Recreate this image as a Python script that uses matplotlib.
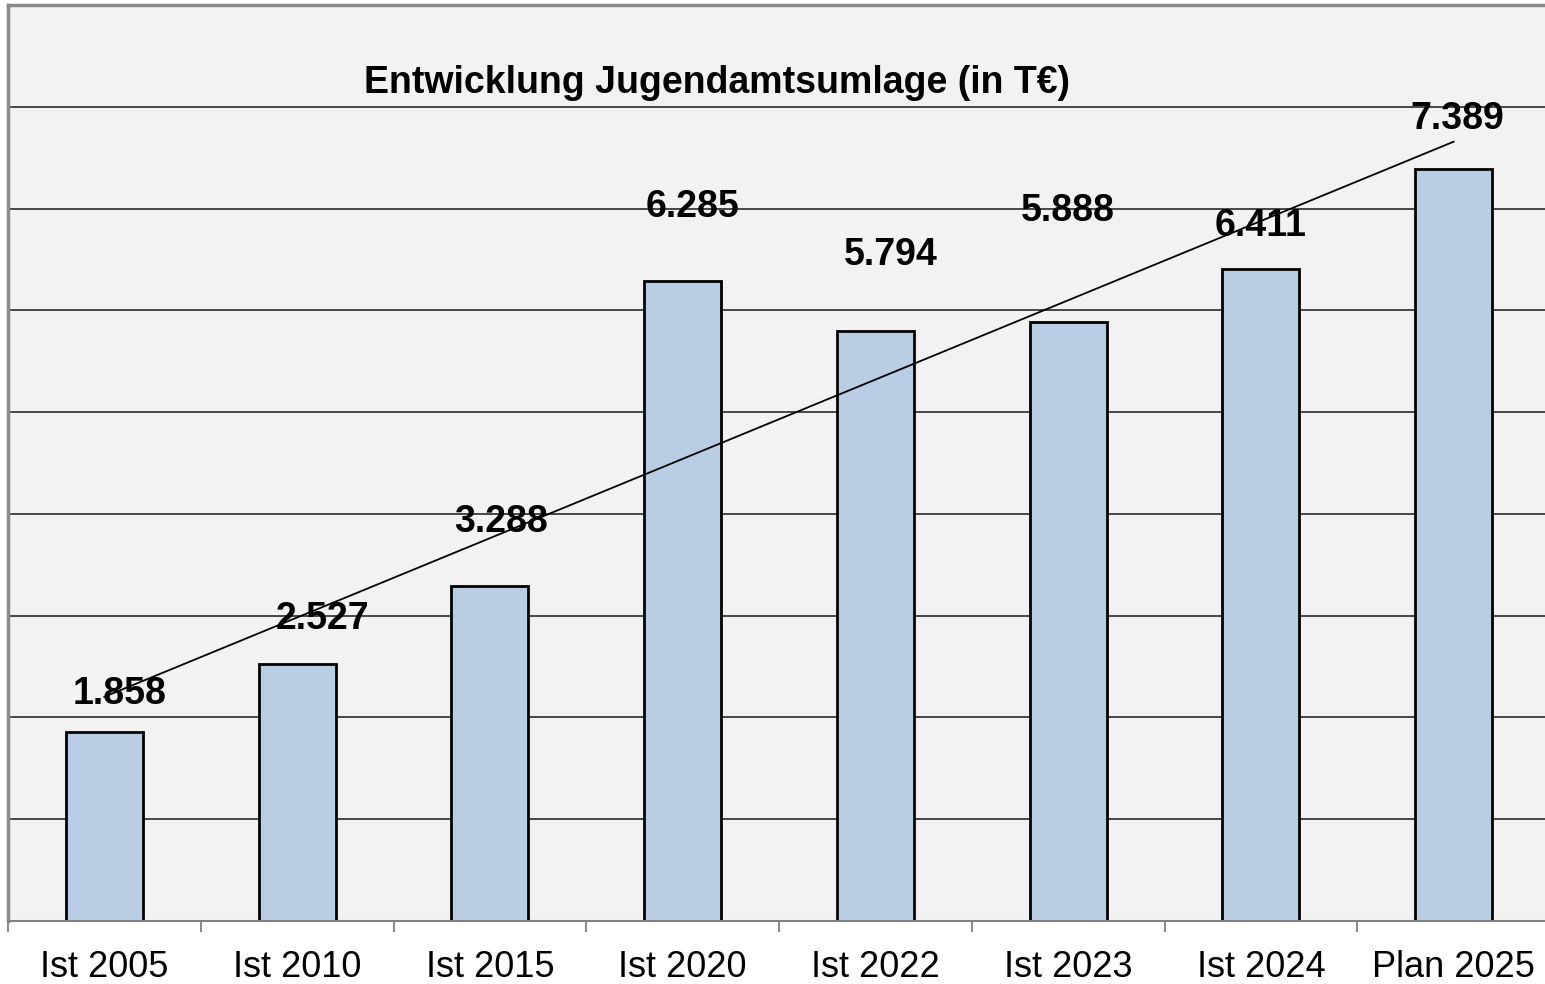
import numpy as np
import matplotlib
matplotlib.use("Agg")
import matplotlib.pyplot as plt
from matplotlib.ticker import FixedLocator, NullFormatter, FixedFormatter

plt.rcParams['font.family'] = ['Liberation Sans', 'DejaVu Sans']

# data
categories = ['Ist 2005', 'Ist 2010', 'Ist 2015', 'Ist 2020',
              'Ist 2022', 'Ist 2023', 'Ist 2024', 'Plan 2025']
values = [1858, 2527, 3288, 6285, 5794, 5888, 6411, 7389]
value_labels = ['1.858', '2.527', '3.288', '6.285',
                '5.794', '5.888', '6.411', '7.389']

# manual label placement (as in the original spreadsheet chart)
label_dx = [0.08, 0.13, 0.06, 0.05, 0.08, 0.0, 0.0, 0.02]
label_dy = [370, 440, 630, 735, 750, 1090, 420, 490]

x = np.arange(len(categories))

fig = plt.figure(figsize=(15.45, 9.84), dpi=100)
ax = fig.add_axes([8 / 1545, 63 / 984, 1542 / 1545, 916 / 984])
ax.set_facecolor('#f2f2f2')

# gridlines
ax.set_ylim(0, 9000)
ax.set_xlim(-0.5, len(categories) - 0.5)
ax.set_yticks(np.arange(1000, 9000, 1000))
ax.yaxis.grid(True, color='#3a3a3a', linewidth=1.3)
ax.set_axisbelow(True)
ax.tick_params(axis='y', left=False, labelleft=False)

ax.bar(x, values, width=0.4, color='#b9cde5', edgecolor='black', linewidth=2, zorder=2)

# linear trend line
slope, intercept = np.polyfit(x, values, 1)
ax.plot([x[0], x[-1]], [intercept, intercept + slope * x[-1]],
        color='black', linewidth=1.3, zorder=3)

for i, v in enumerate(values):
    ax.text(x[i] + label_dx[i], v + label_dy[i], value_labels[i],
            ha='center', va='center', fontsize=27, fontweight='bold', zorder=4)

ax.set_title('Entwicklung Jugendamtsumlage (in T€)', fontsize=27,
             fontweight='bold', x=0.46, y=0.895)

# ticks between categories, labels at category centres
ax.xaxis.set_major_locator(FixedLocator(np.arange(-0.5, len(categories), 1.0)))
ax.xaxis.set_major_formatter(NullFormatter())
ax.xaxis.set_minor_locator(FixedLocator(x))
ax.xaxis.set_minor_formatter(FixedFormatter(categories))
ax.tick_params(axis='x', which='major', length=8, width=1.3, color='#808080', direction='out')
ax.tick_params(axis='x', which='minor', length=0, pad=21, labelsize=26)

for side in ['left', 'top']:
    ax.spines[side].set_color('#8a8a8a')
    ax.spines[side].set_linewidth(2.5)
ax.spines['bottom'].set_color('#808080')
ax.spines['bottom'].set_linewidth(1.5)
ax.spines['right'].set_visible(False)

fig.savefig('out.png', dpi=100)
